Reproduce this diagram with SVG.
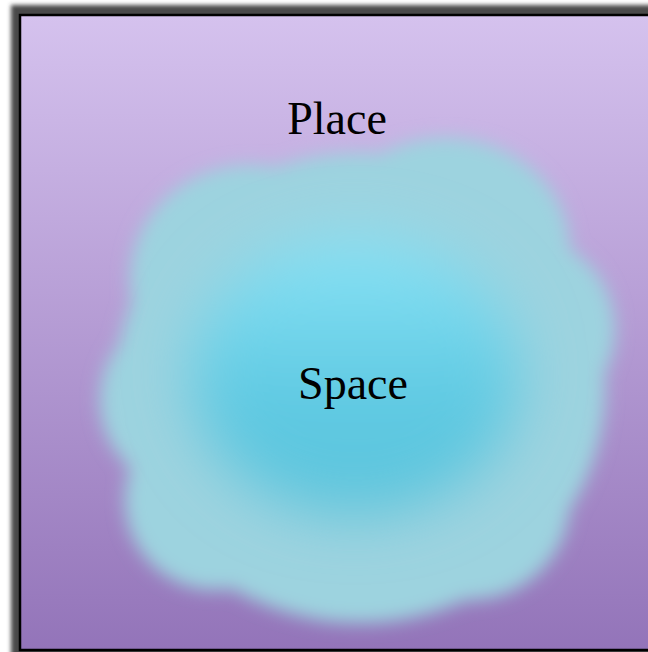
<svg xmlns="http://www.w3.org/2000/svg" width="648" height="652" viewBox="0 0 648 652">
<defs>
<linearGradient id="bg" x1="0" y1="0" x2="0" y2="1">
<stop offset="0" stop-color="#d5c2ee"/>
<stop offset="1" stop-color="#9374b9"/>
</linearGradient>
<linearGradient id="core" x1="0" y1="0" x2="0" y2="1">
<stop offset="0" stop-color="#8ae3f6"/>
<stop offset="0.6" stop-color="#5ec9e2"/>
<stop offset="1" stop-color="#5cc4dc"/>
</linearGradient>
<filter id="sh" x="-10%" y="-10%" width="120%" height="120%"><feGaussianBlur stdDeviation="2.2"/></filter>
<filter id="soft" x="-20%" y="-20%" width="140%" height="140%"><feGaussianBlur stdDeviation="9"/></filter>
<filter id="vsoft" x="-40%" y="-40%" width="180%" height="180%"><feGaussianBlur stdDeviation="30"/></filter>
<style>
.lbl{font-family:"Liberation Serif","DejaVu Serif",serif;font-size:46px;fill:#000;text-anchor:middle}
</style>
</defs>
<rect x="11" y="5" width="680" height="660" fill="#484848" filter="url(#sh)"/>
<rect x="20" y="15" width="660" height="635" fill="url(#bg)" stroke="#000" stroke-width="2.5"/>
<g id="space">
<g fill="#9dd3df" filter="url(#soft)">
<ellipse cx="360" cy="388" rx="245" ry="235"/>
<ellipse cx="250" cy="280" rx="120" ry="115"/>
<ellipse cx="445" cy="250" rx="125" ry="112"/>
<circle cx="190" cy="400" r="90"/>
<circle cx="215" cy="500" r="90"/>
<circle cx="340" cy="522" r="100"/>
<circle cx="470" cy="500" r="100"/>
<circle cx="520" cy="330" r="95"/>
</g>
<ellipse cx="355" cy="375" rx="165" ry="140" fill="url(#core)" filter="url(#vsoft)"/>
<text class="lbl" x="353" y="399">Space</text>
</g>
<g id="place">
<text class="lbl" x="337" y="134">Place</text>
</g>
<g id="connectors"/>
</svg>
